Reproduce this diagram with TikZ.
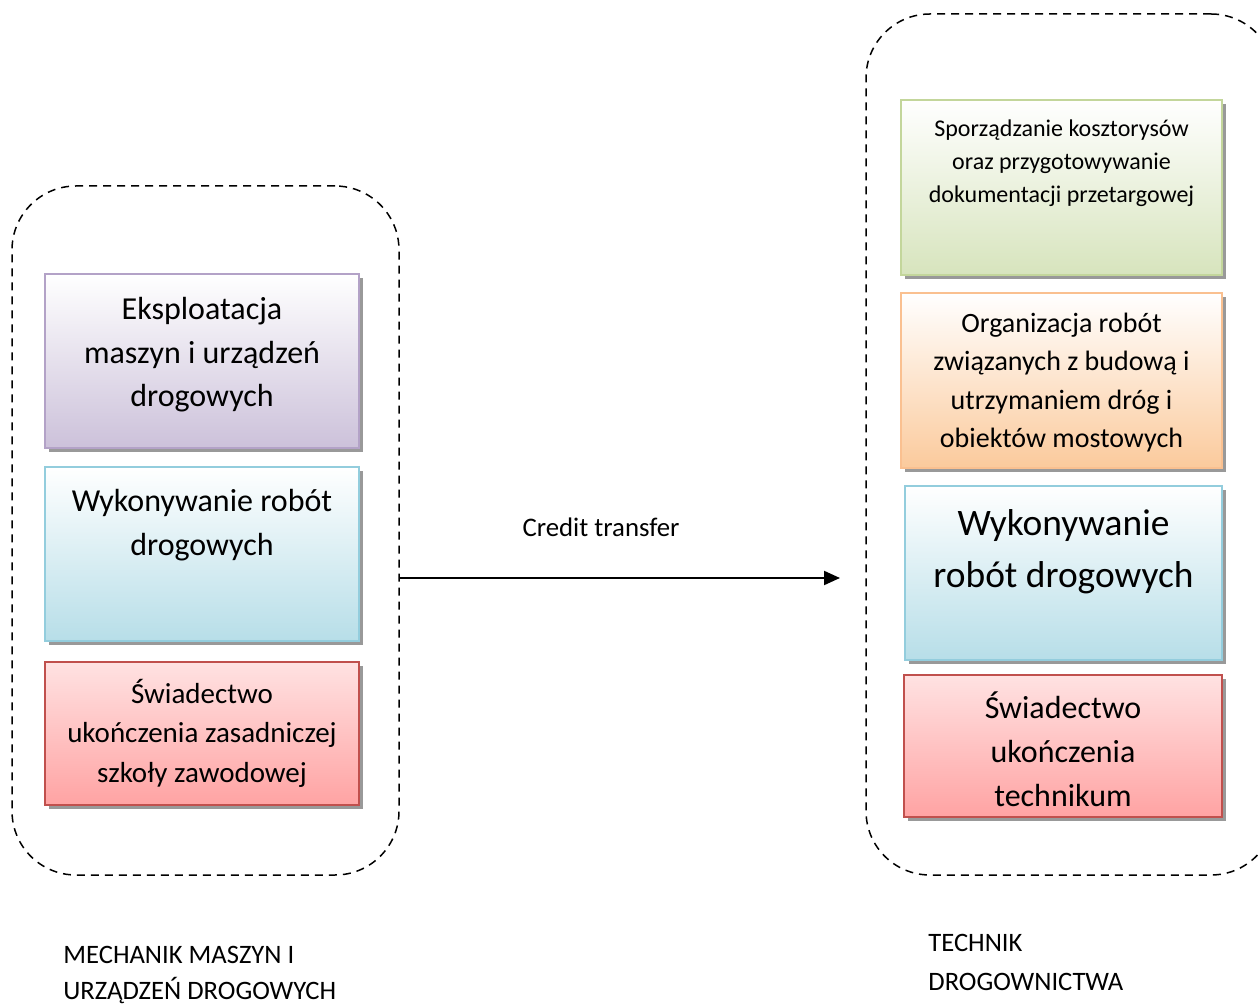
\documentclass[tikz,border=0pt]{standalone}
\usepackage{fontspec}
\setmainfont{Carlito}
\usetikzlibrary{arrows.meta,positioning,calc,shadows}

\definecolor{lilaline}{HTML}{B3A2C7}
\definecolor{lilafill}{HTML}{CCC1DA}
\definecolor{blueline}{HTML}{93CDDD}
\definecolor{bluefill}{HTML}{B7DEE8}
\definecolor{redline}{HTML}{C0504D}
\definecolor{redtop}{HTML}{FFE2E2}
\definecolor{redfill}{HTML}{FFA3A3}
\definecolor{greenline}{HTML}{C3D69B}
\definecolor{greenfill}{HTML}{D7E4BD}
\definecolor{orangeline}{HTML}{FAC090}
\definecolor{orangefill}{HTML}{FBCA9C}

\begin{document}
\begin{tikzpicture}[x=0.5pt,y=-0.5pt,
  box/.style={rectangle, line width=1pt, inner sep=0pt, minimum width=157pt, minimum height=87pt,
    drop shadow={shadow xshift=2pt, shadow yshift=-2pt, fill=black!40, opacity=1}},
  lilabox/.style={box, draw=lilaline, top color=white, bottom color=lilafill},
  bluebox/.style={box, draw=blueline, top color=white, bottom color=bluefill},
  redbox/.style={box, draw=redline, top color=redtop, bottom color=redfill, minimum height=71.5pt},
  greenbox/.style={box, draw=greenline, top color=white, bottom color=greenfill, minimum width=160.5pt, minimum height=87.5pt},
  orangebox/.style={box, draw=orangeline, top color=white, bottom color=orangefill, minimum width=160.5pt, minimum height=87.5pt},
  boxtext/.style={align=center, inner sep=0pt},
  group/.style={rectangle, draw, dashed, dash pattern=on 4pt off 3pt, line width=0.75pt, rounded corners=32pt},
  caption/.style={align=left, inner sep=0pt, anchor=west}]
  \useasboundingbox (0,0) rectangle (1258,1004);
  \clip (0,0) rectangle (1258,1004);

  % left column
  \node (mech) [group, minimum width=193.5pt, minimum height=344.5pt] at (205.5,530.5) {};
  \node (e1) [lilabox] at (202,361) {};
  \node (e2) [bluebox] at (202,554) {};
  \node (e3) [redbox] at (202,733.5) {};
  \node (e1t) [boxtext, font=\fontsize{16}{21.75}\selectfont] at (202,355) {Eksploatacja\\maszyn i urządzeń\\drogowych};
  \node (e2t) [boxtext, font=\fontsize{16}{21.75}\selectfont] at (202,525) {Wykonywanie robót\\drogowych};
  \node (e3t) [boxtext, font=\fontsize{14.5}{19.75}\selectfont] at (202,733) {Świadectwo\\ukończenia zasadniczej\\szkoły zawodowej};

  % right column
  \node (tech) [group, minimum width=204.5pt, minimum height=430.5pt] at (1070.5,444.5) {};
  \node (d1) [greenbox] at (1061.5,187.5) {};
  \node (d2) [orangebox] at (1061.5,380.5) {};
  \node (d3) [bluebox, minimum width=158.5pt] at (1063.5,573) {};
  \node (d4) [redbox, minimum width=159pt, minimum height=71pt] at (1063,746) {};
  \node (d1t) [boxtext, font=\fontsize{12}{16.5}\selectfont] at (1061.5,163.5) {Sporządzanie kosztorysów\\oraz przygotowywanie\\dokumentacji przetargowej};
  \node (d2t) [boxtext, font=\fontsize{14}{19.25}\selectfont] at (1061.5,382.5) {Organizacja robót\\związanych z budową i\\utrzymaniem dróg i\\obiektów mostowych};
  \node (d3t) [boxtext, font=\fontsize{18.7}{26}\selectfont] at (1063.5,552) {Wykonywanie\\robót drogowych};
  \node (d4t) [boxtext, font=\fontsize{16}{22}\selectfont] at (1063,749) {Świadectwo\\ukończenia\\technikum};

  % transfer
  \coordinate (ct) at (840,578);
  \draw [line width=1pt, -{Triangle[length=8pt,width=7pt]}] (mech.east |- ct) -- (ct);
  \node (ctl) [inner sep=0pt, font=\fontsize{13.4}{16}\selectfont] at (601,527) {Credit transfer};

  % captions
  \node (mechl) [caption, font=\fontsize{13.3}{18}\selectfont] at (63,975) {MECHANIK MASZYN I\\URZĄDZEŃ DROGOWYCH};
  \node (techl) [caption, font=\fontsize{13.3}{19.5}\selectfont] at (928,962) {TECHNIK\\DROGOWNICTWA};
\end{tikzpicture}
\end{document}
